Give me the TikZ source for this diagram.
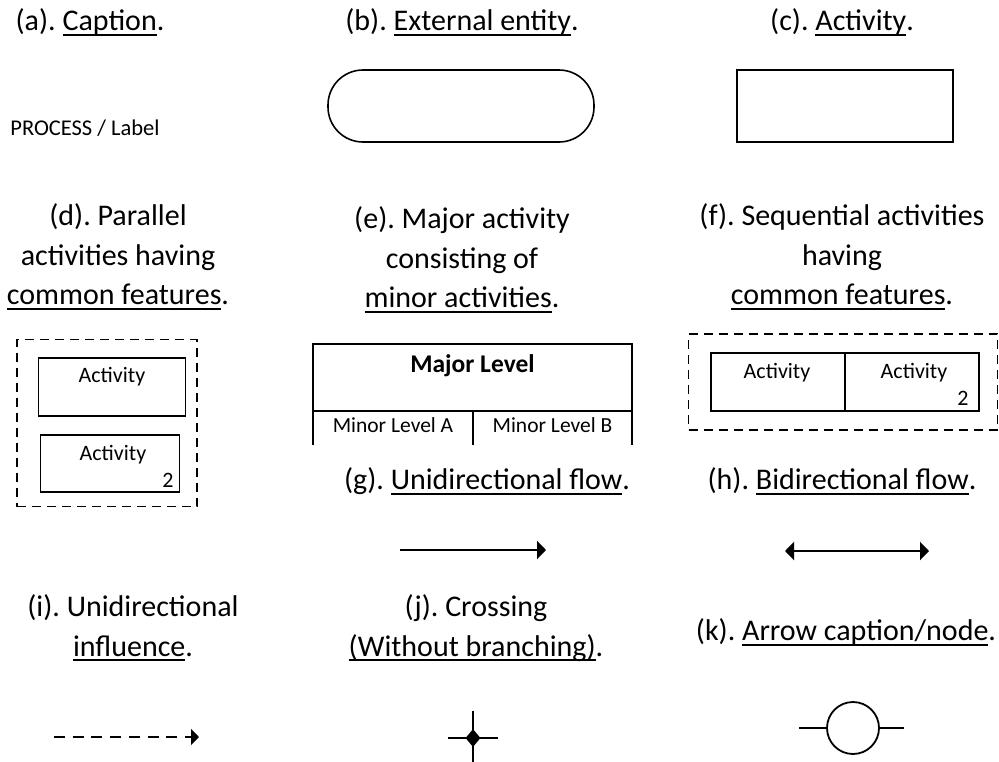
\documentclass[tikz,border=0pt]{standalone}
\usepackage{fontspec}
\setmainfont{Carlito}
\frenchspacing
\usetikzlibrary{arrows.meta,shapes.geometric}
\newcommand\myul[1]{\begingroup\setbox0=\hbox{#1}\leavevmode\rlap{\rule[-0.17em]{\wd0}{0.06em}}\box0\endgroup}
\tikzset{
  captext/.style={font=\fontsize{30}{39.5}\selectfont, align=center, inner sep=0pt},
  smalltext/.style={font=\fontsize{22}{25}\selectfont, inner sep=0pt},
  boxline/.style={draw, line width=1.8pt},
  dbox/.style={draw, line width=1.8pt, dash pattern=on 9pt off 6pt},
  myhead/.tip={Triangle[length=9pt,width=18pt]},
  smallhead/.tip={Triangle[length=8pt,width=16pt]},
}
\begin{document}
\begin{tikzpicture}[x=1pt,y=-1pt]
\useasboundingbox (0,0) rectangle (999,761);
% row 1
\node[captext] (capa) at (90,22) {(a). \myul{Caption}.};
\node[captext] (capb) at (462,22) {(b). \myul{External entity}.};
\node[captext] (capc) at (842,22) {(c). \myul{Activity}.};
\node[smalltext, font=\fontsize{22.5}{25}\selectfont] (proc) at (85,128) {PROCESS / Label};
\node[boxline, line width=1.6pt, minimum width=266pt, minimum height=72pt, rounded corners=35pt, inner sep=0pt] (ext) at (461,106) {};
\node[boxline, line width=1.6pt, minimum width=216pt, minimum height=72pt, inner sep=0pt] (act) at (845,106) {};
% row 2 captions
\node[captext] (capd) at (118,257) {(d). Parallel\\activities having\\\myul{common features}.};
\node[captext] (cape) at (462,260) {(e). Major activity\\consisting of\\\myul{minor activities}.};
\node[captext] (capf) at (842,257) {(f). Sequential activities\\having\\\myul{common features}.};
% (d)
\node[dbox, minimum width=180pt, minimum height=167pt, inner sep=0pt] (dd) at (107,423) {};
\node[boxline, minimum width=147pt, minimum height=58pt, inner sep=0pt] (d1) at (112,387) {};
\node[smalltext] at (112,377) {Activity};
\node[boxline, minimum width=139pt, minimum height=57pt, inner sep=0pt] (d2) at (110,463.5) {};
\node[smalltext] at (113,455) {Activity};
\node[smalltext] at (168,480) {2};
% (e)
\coordinate (e1) at (313,445);
\coordinate (e2) at (313,344);
\coordinate (e3) at (632,344);
\coordinate (e4) at (632,445);
\coordinate (e5) at (313,411);
\coordinate (e6) at (632,411);
\coordinate (e7) at (473,411);
\coordinate (e8) at (473,445);
\draw[line width=1.8pt, line join=miter] (e1) -- (e2) -- (e3) -- (e4);
\draw[line width=1.8pt] (e5) -- (e6);
\draw[line width=1.8pt] (e7) -- (e8);
\node[smalltext, font=\bfseries\fontsize{25.5}{28}\selectfont] (major) at (472.5,366) {Major Level};
\node[smalltext, font=\fontsize{21.5}{25}\selectfont] (mina) at (393,425) {Minor Level A};
\node[smalltext, font=\fontsize{21.5}{25}\selectfont] (minb) at (552.5,425) {Minor Level B};
% (f)
\node[dbox, minimum width=309pt, minimum height=96pt, inner sep=0pt] (ff) at (843,382) {};
\node[boxline, minimum width=134pt, minimum height=58pt, inner sep=0pt] (f1) at (778,382) {};
\node[boxline, minimum width=134pt, minimum height=58pt, inner sep=0pt] (f2) at (912,382) {};
\node[smalltext] at (777,373) {Activity};
\node[smalltext] at (914,373) {Activity};
\node[smalltext] at (963,398) {2};
% (g) (h)
\node[captext] (capg) at (487,481) {(g). \myul{Unidirectional flow}.};
\node[captext] (caph) at (842,481) {(h). \myul{Bidirectional flow}.};
\coordinate (g1) at (400,550);
\coordinate (g2) at (546,550);
\draw[line width=2.8pt, -{myhead}] (g1) -- (g2);
\coordinate (h1) at (785,551);
\coordinate (h2) at (929,551);
\draw[line width=2.8pt, {myhead}-{myhead}] (h1) -- (h2);
% (i) (j) (k)
\node[captext] (capi) at (133,628) {(i). Unidirectional\\\myul{influence}.};
\node[captext] (capj) at (476,628) {(j). Crossing\\\myul{(Without branching)}.};
\node[captext] (capk) at (846,632) {(k). \myul{Arrow caption/node}.};
\coordinate (i1) at (54,737);
\coordinate (i2) at (199,737);
\draw[line width=2.8pt, dash pattern=on 11pt off 7.7pt, -{smallhead}] (i1) -- (i2);
% crossing
\node[diamond, fill=black, inner sep=0pt, minimum width=15pt, minimum height=18pt] (jx) at (473,738) {};
\coordinate (jt) at (473,711);
\coordinate (jb) at (473,765);
\coordinate (jl) at (448,738);
\coordinate (jr) at (498,738);
\draw[line width=1.6pt] (jt) -- (jb);
\draw[line width=2.6pt] (jl) -- (jr);
% node circle
\node[circle, draw, line width=1.8pt, minimum size=52pt, inner sep=0pt] (kc) at (853,728) {};
\coordinate (kl) at (799,728);
\coordinate (kr) at (904,728);
\draw[line width=1.8pt] (kl) -- (kc.west);
\draw[line width=1.8pt] (kc.east) -- (kr);
\end{tikzpicture}
\end{document}
